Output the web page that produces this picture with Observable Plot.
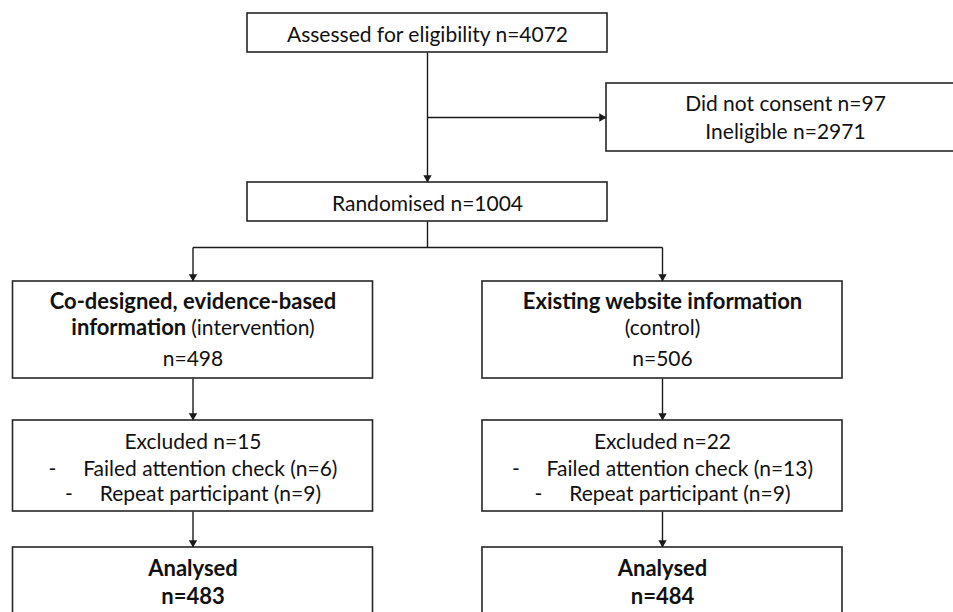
<!DOCTYPE html>
<html><head><meta charset="utf-8">
<script src="https://cdn.jsdelivr.net/npm/d3@7"></script>
<script src="https://cdn.jsdelivr.net/npm/@observablehq/plot@0.6"></script>
<style>html,body{margin:0;padding:0;overflow:hidden;background:#fff}</style>
</head><body><div id="chart"></div>
<script>
// ---- data ----
const assessedLabel = "Assessed for eligibility";
const assessedN = 4072;
const preExclusionLabels = ["Did not consent", "Ineligible"];
const preExclusionN = [97, 2971];
const randomisedLabel = "Randomised";
const randomisedN = 1004;
const armBoldLines = [["Co-designed, evidence-based", "information"], ["Existing website information", ""]];
const armTags = ["(intervention)", "(control)"];
const allocatedN = [498, 506];
const excludedN = [15, 22];
const excludedReasons = ["Failed attention check", "Repeat participant"];
const failedCheckN = [6, 13];
const repeatN = [9, 9];
const analysedLabel = "Analysed";
const analysedN = [483, 484];

// ---- layout (pixel geometry of the flow diagram) ----
const W = 953, H = 612;
const FS = 21, FSB = 22, FONT = "Lato";
const colX = [192.5, 662];
const colHalf = 180;
const L = {
  top: {x1: 247, x2: 607, y1: 13, y2: 52},
  side: {x1: 606, x2: 964, y1: 83, y2: 151},
  rand: {x1: 247, x2: 607, y1: 182, y2: 221},
  arm: {y1: 281, y2: 378},
  exc: {y1: 420, y2: 511},
  ana: {y1: 547, y2: 624},
  midX: 427, splitY: 117, branchY: 247
};

const boxes = [L.top, L.side, L.rand];
colX.forEach(cx => {
  for (const k of ["arm", "exc", "ana"]) boxes.push({x1: cx - colHalf, x2: cx + colHalf, y1: L[k].y1, y2: L[k].y2});
});

const links = [
  {x1: L.midX, y1: L.top.y2, x2: L.midX, y2: L.rand.y1},
  {x1: L.midX, y1: L.splitY, x2: L.side.x1, y2: L.splitY},
  {x1: L.midX, y1: L.rand.y2, x2: L.midX, y2: L.branchY},
  {x1: colX[0], y1: L.branchY, x2: colX[1], y2: L.branchY}
];
const downHeads = [{x: L.midX, y: L.rand.y1}];
colX.forEach(cx => {
  links.push({x1: cx, y1: L.branchY, x2: cx, y2: L.arm.y1});
  links.push({x1: cx, y1: L.arm.y2, x2: cx, y2: L.exc.y1});
  links.push({x1: cx, y1: L.exc.y2, x2: cx, y2: L.ana.y1});
  downHeads.push({x: cx, y: L.arm.y1}, {x: cx, y: L.exc.y1}, {x: cx, y: L.ana.y1});
});
const rightHeads = [{x: L.side.x1, y: L.splitY}];

const NB = "\u00a0".repeat(5);
const texts = [];
const mixed = [];
function addT(x, base, text, bold = false, anchor = "middle") { texts.push({x, base, text, bold, anchor}); }
addT(L.midX, 41.5, `${assessedLabel} n=${assessedN}`);
preExclusionLabels.forEach((s, i) => addT((L.side.x1 + L.side.x2) / 2, [110.7, 138.3][i], `${s} n=${preExclusionN[i]}`));
addT(L.midX, 210, `${randomisedLabel} n=${randomisedN}`);
colX.forEach((cx, i) => {
  addT(cx, 308, armBoldLines[i][0], true);
  const b = armBoldLines[i][1], t = armTags[i];
  if (b) {
    addT(cx, 334, b, true, "end");
    addT(cx, 334, t, false, "start");
    mixed.push([b, t]);
  } else addT(cx, 334, t);
  addT(cx, 365, `n=${allocatedN[i]}`);
  addT(cx, 448, `Excluded n=${excludedN[i]}`);
  addT(cx, 475, `-${NB}${excludedReasons[0]} (n=${failedCheckN[i]})`);
  addT(cx, 500, `-${NB}${excludedReasons[1]} (n=${repeatN[i]})`);
  addT(cx, 575, analysedLabel, true);
  addT(cx, 603, `n=${analysedN[i]}`, true);
});

const INK = "#1a1a1a";
const r = 3.1, tip = 2 * r * Math.sqrt(Math.PI / (3 * Math.sqrt(3)));

const textMarks = [];
for (const bold of [false, true]) {
  for (const anchor of ["middle", "start", "end"]) {
    const sub = texts.filter(d => d.bold === bold && d.anchor === anchor);
    if (!sub.length) continue;
    const fs = bold ? FSB : FS;
    textMarks.push(Plot.text(sub, {x: "x", y: d => d.base - 0.32 * fs, text: "text", textAnchor: anchor,
      fontSize: fs, fontWeight: bold ? "bold" : "normal", fill: "#111", lineAnchor: "middle"}));
  }
}

const chart = Plot.plot({
  width: W, height: H, margin: 0,
  x: {domain: [0, W], range: [0, W], axis: null},
  y: {domain: [0, H], range: [0, H], axis: null},
  style: {background: "#fff", fontFamily: FONT},
  marks: [
    Plot.link(links, {x1: "x1", y1: "y1", x2: "x2", y2: "y2", stroke: INK, strokeWidth: 1.4}),
    Plot.rect(boxes, {x1: "x1", x2: "x2", y1: "y1", y2: "y2", fill: "#fff", stroke: "#262626", strokeWidth: 1.6, clip: true}),
    Plot.dot(downHeads, {x: "x", y: "y", symbol: "triangle", r, rotate: 180, dy: -tip, fill: INK, stroke: "none"}),
    Plot.dot(rightHeads, {x: "x", y: "y", symbol: "triangle", r, rotate: 90, dx: -tip, fill: INK, stroke: "none"}),
    ...textMarks
  ]
});
document.getElementById("chart").appendChild(chart);

// centre the mixed bold + regular lines as one line
const gap = 5;
const all = Array.from(chart.querySelectorAll("text"));
for (const [b, t] of mixed) {
  const eb = all.find(e => e.textContent === b);
  const et = all.find(e => e.textContent === t);
  if (!eb || !et) continue;
  const wb = eb.getComputedTextLength(), wr = et.getComputedTextLength();
  eb.setAttribute("dx", (wb - gap - wr) / 2);
  et.setAttribute("dx", (wb + gap - wr) / 2);
}
</script></body></html>
